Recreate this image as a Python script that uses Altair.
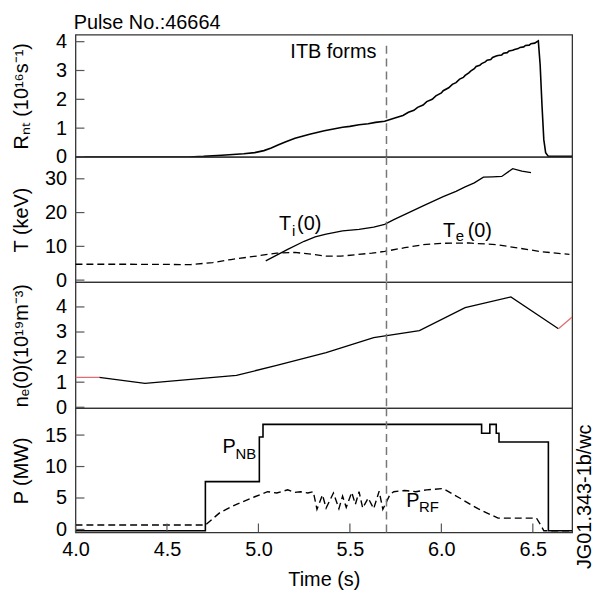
import altair as alt
import pandas as pd

FONT = "Liberation Sans"

# ---------------- data ----------------
# Panel 1: neutron rate R_nt (1e16 /s)
rnt_t = [4.00, 4.62, 4.70, 4.80, 4.92, 4.98, 5.03, 5.07, 5.11, 5.15, 5.20, 5.28, 5.36, 5.46, 5.50,
         5.55, 5.60, 5.64, 5.69, 5.75, 5.79, 5.82, 5.85, 5.87, 5.90, 5.92, 5.95, 5.97, 6.00, 6.01,
         6.04, 6.06, 6.08, 6.10, 6.12, 6.13, 6.15, 6.16, 6.18, 6.19, 6.21, 6.22, 6.24, 6.25, 6.27,
         6.28, 6.30, 6.31, 6.33, 6.34, 6.36, 6.37, 6.39, 6.40, 6.42, 6.43, 6.45, 6.46, 6.48, 6.49,
         6.51, 6.53, 6.54, 6.55, 6.56, 6.57, 6.585, 6.715]
rnt_v = [0.00, 0.00, 0.02, 0.06, 0.11, 0.15, 0.22, 0.31, 0.42, 0.53, 0.65, 0.79, 0.91, 1.03, 1.06,
         1.12, 1.15, 1.20, 1.24, 1.36, 1.44, 1.55, 1.62, 1.72, 1.80, 1.92, 2.00, 2.12, 2.22, 2.30,
         2.40, 2.52, 2.58, 2.70, 2.76, 2.83, 2.92, 2.98, 3.06, 3.14, 3.18, 3.24, 3.30, 3.36, 3.38,
         3.45, 3.50, 3.52, 3.54, 3.60, 3.62, 3.68, 3.70, 3.73, 3.76, 3.80, 3.82, 3.87, 3.88, 3.93,
         3.95, 4.03, 3.20, 1.80, 0.60, 0.15, 0.02, 0.02]

# Panel 2: central temperatures (keV)
ti_t = [5.04, 5.10, 5.16, 5.25, 5.31, 5.37, 5.46, 5.55, 5.63, 5.69, 5.74, 5.81, 5.90, 6.01, 6.08,
        6.13, 6.18, 6.23, 6.28, 6.33, 6.39, 6.44, 6.49]
ti_v = [5.7, 7.4, 9.1, 11.5, 12.8, 13.6, 14.6, 15.0, 15.7, 16.5, 17.9, 19.7, 22.0, 24.7, 26.3,
        27.6, 28.8, 30.5, 30.6, 30.7, 33.0, 32.3, 31.8]
te_t = [4.00, 4.30, 4.63, 4.75, 4.85, 5.00, 5.10, 5.20, 5.30, 5.37, 5.45, 5.53, 5.62, 5.69, 5.80,
        5.90, 6.00, 6.15, 6.30, 6.42, 6.55, 6.70]
te_v = [4.7, 4.7, 4.6, 5.2, 6.1, 7.2, 8.0, 8.2, 7.6, 7.1, 7.1, 7.5, 8.0, 8.5, 9.6,
        10.5, 10.9, 11.0, 10.5, 9.5, 8.4, 7.6]

# Panel 3: central density (1e19 m^-3)
ne_t = [4.13, 4.38, 4.88, 5.10, 5.37, 5.63, 5.88, 6.13, 6.38, 6.64]
ne_v = [1.19, 0.95, 1.27, 1.67, 2.18, 2.78, 3.06, 3.97, 4.40, 3.13]
ne_start_t = [4.00, 4.13]
ne_start_v = [1.19, 1.19]
ne_end_t = [6.64, 6.715]
ne_end_v = [3.13, 3.60]

# Panel 4: heating power (MW)
pnb_t = [4.00, 4.71, 4.71, 5.005, 5.005, 5.025, 5.025, 6.22, 6.22, 6.265, 6.265, 6.30, 6.30,
         6.315, 6.315, 6.585, 6.585, 6.715]
pnb_v = [-0.2, -0.2, 7.6, 7.6, 14.7, 14.7, 16.7, 16.7, 15.3, 15.3, 16.7, 16.7, 15.3,
         15.3, 13.9, 13.9, -0.2, -0.2]
prf_t = [4.00, 4.71, 4.79, 4.88, 4.98, 5.05, 5.10, 5.16, 5.20, 5.23, 5.27, 5.30, 5.32, 5.35,
         5.37, 5.41, 5.44, 5.46, 5.48, 5.51, 5.53, 5.55, 5.57, 5.60, 5.63, 5.66, 5.68, 5.72,
         5.74, 5.80, 5.86, 5.92, 6.01, 6.10, 6.20, 6.31, 6.52, 6.545, 6.56, 6.715]
prf_v = [0.7, 0.7, 2.7, 4.0, 5.2, 6.0, 5.8, 6.3, 5.9, 6.0, 5.8, 6.0, 3.2, 5.5,
         3.4, 5.8, 3.3, 5.3, 3.5, 5.9, 4.0, 6.0, 3.4, 5.0, 3.3, 6.1, 3.2, 5.6,
         6.0, 6.2, 6.0, 6.3, 6.5, 5.0, 3.3, 1.8, 1.8, 0.6, -0.2, -0.2]

itb_time = 5.7
x_ticks = [4.0, 4.5, 5.0, 5.5, 6.0, 6.5]
y1_ticks = [0, 1, 2, 3, 4]
y2_ticks = [0, 10, 20, 30]
y3_ticks = [0, 1, 2, 3, 4]
y4_ticks = [0, 5, 10, 15]

# ---------------- layout constants ----------------
W = 500
XDOM = [4.0, 6.715]
FRAME = "#333333"
TICKC = "#555555"


def df(t, v):
    return pd.DataFrame({"t": t, "v": v, "i": list(range(len(t)))})


def yaxis(title, values):
    return alt.Axis(title=title, values=values, ticks=False, domain=False, grid=False,
                    labelFont=FONT, labelFontSize=20, labelColor="black", labelPadding=9,
                    labelFlush=False, titleFont=FONT, titleFontSize=20,
                    titleFontWeight="normal", titleColor="black", titleX=-44)


XAXIS = alt.Axis(title="Time (s)", values=x_ticks, format=".1f", ticks=False, domain=False,
                 grid=False, labelFont=FONT, labelFontSize=20, labelColor="black",
                 labelPadding=7, labelFlush=False,
                 titleFont=FONT, titleFontSize=20, titleFontWeight="normal",
                 titleColor="black", titlePadding=10)


class Panel:
    def __init__(self, dom, yax, xax=None):
        self.dom = dom
        self.yax = yax
        self.xax = xax

    def x(self):
        if self.xax is None:
            return alt.X("t:Q", scale=alt.Scale(domain=XDOM, nice=False, zero=False), axis=None)
        return alt.X("t:Q", scale=alt.Scale(domain=XDOM, nice=False, zero=False), axis=self.xax)

    def y(self, field="v"):
        return alt.Y(f"{field}:Q", scale=alt.Scale(domain=self.dom, nice=False, zero=False),
                     axis=self.yax)

    def line(self, data, color="black", dash=None, width=1.4):
        kw = dict(color=color, strokeWidth=width, clip=True)
        if dash:
            kw["strokeDash"] = dash
        return alt.Chart(data).mark_line(**kw).encode(x=self.x(), y=self.y(), order="i:Q")

    def yticks(self, values):
        return alt.Chart(pd.DataFrame({"v": values})).mark_rule(
            color=TICKC, strokeWidth=1.2).encode(y=self.y(), x=alt.value(0), x2=alt.value(9))

    def xticks(self, values):
        return alt.Chart(pd.DataFrame({"t": values})).mark_rule(
            color=TICKC, strokeWidth=1.2).encode(x=self.x(), y=alt.value(125), y2=alt.value(116))

    def itb(self, top=None):
        d = pd.DataFrame({"t": [itb_time], "v": [self.dom[0]], "v2": [top if top else 0]})
        m = alt.Chart(d).mark_rule(color="#777777", strokeWidth=1.5, strokeDash=[8, 5])
        if top is None:
            return m.encode(x=self.x())
        return m.encode(x=self.x(), y=self.y(), y2="v2:Q")

    def label(self, pieces, align="left"):
        d = pd.DataFrame(pieces, columns=["txt", "t", "v", "size"])
        return alt.Chart(d).mark_text(font=FONT, align=align, baseline="alphabetic",
                                      color="black").encode(
            x=self.x(), y=self.y(), text="txt:N",
            size=alt.Size("size:Q", scale=None, legend=None))


# ---------------- panel 1 ----------------
P1 = Panel([0, 4.24], yaxis("Rₙₜ (10¹⁶s⁻¹)", y1_ticks))
p1 = alt.layer(
    P1.line(df(rnt_t, rnt_v), width=1.6),
    P1.yticks(y1_ticks),
    P1.itb(3.95),
    P1.label([("ITB forms", 5.645, 3.43, 20)], align="right"),
    P1.label([("Pulse No.:46664", 3.99, 4.45, 20)]),
).properties(width=W, height=123)

# ---------------- panel 2 ----------------
P2 = Panel([-0.59, 36.47], yaxis("T (keV)", y2_ticks))
p2 = alt.layer(
    P2.line(df(ti_t, ti_v), width=1.3),
    P2.line(df(te_t, te_v), width=1.3, dash=[7, 4]),
    P2.yticks(y2_ticks),
    P2.itb(),
    P2.label([("T", 5.113, 14.7, 20), ("i", 5.184, 13.2, 15), ("(0)", 5.211, 14.7, 20),
              ("T", 6.009, 12.9, 20), ("e", 6.079, 11.5, 15), ("(0)", 6.144, 12.9, 20)]),
).properties(width=W, height=126)

# ---------------- panel 3 ----------------
P3 = Panel([-0.04, 4.99], yaxis("nₑ(0)(10¹⁹m⁻³)", y3_ticks))
p3 = alt.layer(
    P3.line(df(ne_t, ne_v), width=1.3),
    P3.line(df(ne_start_t, ne_start_v), width=1.3, color="#e07070"),
    P3.line(df(ne_end_t, ne_end_v), width=1.3, color="#e07070"),
    P3.yticks(y3_ticks),
    P3.itb(),
).properties(width=W, height=127)

# ---------------- panel 4 ----------------
P4 = Panel([-0.47, 19.26], yaxis("P (MW)", y4_ticks), XAXIS)
p4 = alt.layer(
    P4.line(df(pnb_t, pnb_v), width=1.6),
    P4.line(df(prf_t, prf_v), width=1.4, dash=[7, 4]),
    P4.yticks(y4_ticks),
    P4.xticks(x_ticks),
    P4.itb(),
    P4.label([("P", 4.803, 12.2, 20), ("NB", 4.874, 11.2, 15),
              ("P", 5.808, 3.6, 20), ("RF", 5.878, 2.8, 15)]),
    alt.Chart(pd.DataFrame({"txt": ["JG01.343-1b/wc"], "t": [6.73], "v": [5.2]})).mark_text(
        font=FONT, fontSize=20, angle=270, align="center", baseline="top", color="black").encode(
        x=P4.x(), y=P4.y(), text="txt:N"),
).properties(width=W, height=125)

chart = alt.vconcat(p1, p2, p3, p4, spacing=0, bounds="flush").properties(
    padding={"left": 11, "top": 10, "right": 0, "bottom": 5},
    background="white",
).configure_view(stroke=FRAME, strokeWidth=1.3).configure_concat(spacing=0)

chart.save("out.html", embed_options={"renderer": "svg", "actions": False})
